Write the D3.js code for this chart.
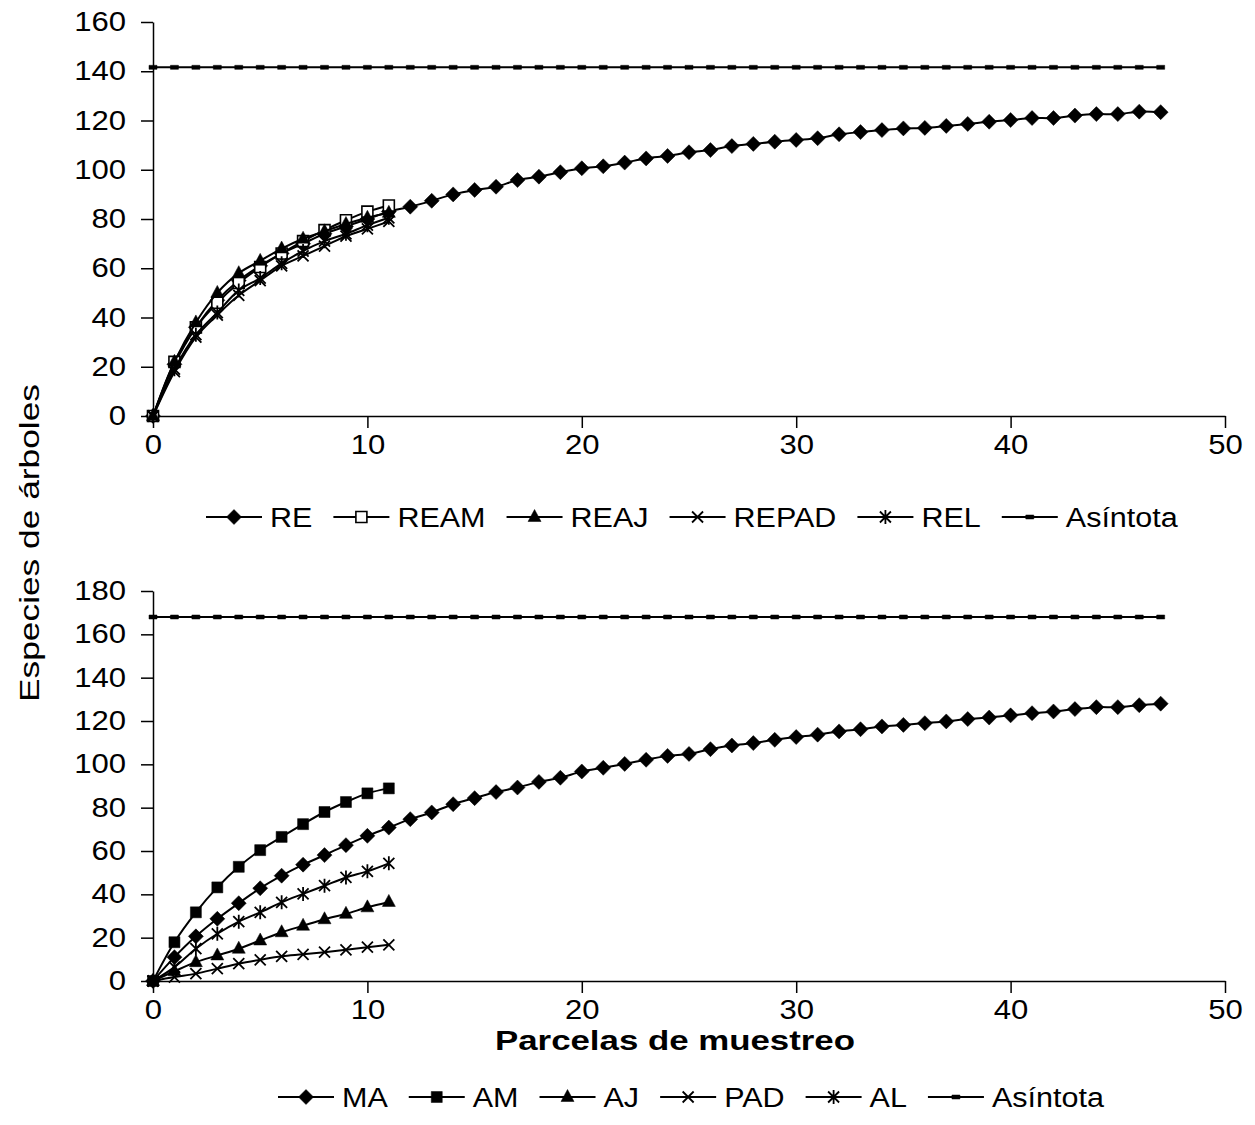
<!DOCTYPE html>
<html>
<head>
<meta charset="utf-8">
<script src="https://cdn.jsdelivr.net/npm/d3@7"></script>
<style>
  body { margin: 0; background: #fff; }
  text { font-family: "Liberation Sans", Arial, sans-serif; fill: #000; }
</style>
</head>
<body>
<div id="myChart"></div>
<script>
// ---- data ----
const parcelasLargo = d3.range(0, 48);   // 0..47
const parcelasCorto = d3.range(0, 12);   // 0..11
const xTicks = [0, 10, 20, 30, 40, 50];
const yTicksTop = [0, 20, 40, 60, 80, 100, 120, 140, 160];
const yTicksBot = [0, 20, 40, 60, 80, 100, 120, 140, 160, 180];

// top panel
const RE = [0, 21, 36, 47, 55, 61, 66, 70, 74, 77, 80, 83,
  85.0, 87.4, 90.0, 91.8, 93.1, 95.8, 97.2, 99.0, 100.6, 101.4, 102.9, 104.6,
  105.6, 107.1, 108.0, 109.6, 110.5, 111.4, 112.1, 112.8, 114.4, 115.3, 116.1, 116.8,
  117.0, 117.8, 118.6, 119.5, 120.2, 121.0, 121.0, 122.0, 122.6, 122.6, 123.6, 123.4];
const REAM = [0, 22, 36, 46, 54, 60.5, 66, 71, 75.5, 79.5, 83, 85.5];
const REAJ = [0, 22, 38, 50, 58, 63, 68, 72, 75, 78, 80.5, 82.5];
const REPAD = [0, 18, 32, 41, 49, 55, 61, 65, 69, 73, 76, 79];
const REL = [0, 19, 33, 42, 51, 56, 62, 67, 71, 74, 77.5, 80.5];
const asintotaTop = 141.6;

// bottom panel
const MA = [0, 11.0, 20.6, 28.7, 35.9, 42.8, 48.6, 53.7, 58.1, 62.7, 67.0, 70.8,
  74.7, 77.8, 81.6, 84.4, 87.2, 89.3, 91.9, 93.8, 96.7, 98.4, 100.2, 102.1,
  103.9, 104.8, 107.0, 108.7, 109.8, 111.3, 112.6, 113.7, 115.2, 116.2, 117.5, 118.2,
  119.0, 119.8, 120.9, 121.6, 122.6, 123.6, 124.4, 125.5, 126.4, 126.4, 127.3, 128.0];
const AM = [0, 17.9, 31.7, 43.2, 52.7, 60.4, 66.5, 72.4, 78.0, 82.6, 86.6, 88.9];
const AJ = [0, 4.5, 8.7, 11.8, 14.9, 18.7, 22.5, 25.5, 28.5, 31.0, 34.0, 36.5];
const PAD = [0, 1.8, 3.4, 5.7, 8.0, 9.8, 11.4, 12.3, 13.3, 14.4, 15.6, 16.7];
const AL = [0, 6.4, 14.9, 21.8, 27.4, 31.7, 36.3, 40.2, 44.0, 47.8, 50.6, 54.3];
const asintotaBot = 168.0;

// ---- page ----
const W = 1255, H = 1125;
const svg = d3.select("#myChart").append("svg")
  .attr("width", W).attr("height", H);

const x = d3.scaleLinear().domain([0, 50]).range([153, 1225]);
const yTop = d3.scaleLinear().domain([0, 160]).range([416, 22]);
const yBot = d3.scaleLinear().domain([0, 180]).range([981, 591]);

// marker shapes
const shapes = {
  diamond: "M0,-7.5L7.5,0L0,7.5L-7.5,0Z",
  square: "M-5.5,-5.5H5.5V5.5H-5.5Z",
  triangle: "M0,-7.5L6.5,4.5L-6.5,4.5Z",
  cross: "M-5.5,-5.5L5.5,5.5M-5.5,5.5L5.5,-5.5",
  star: "M-5.5,-5.5L5.5,5.5M-5.5,5.5L5.5,-5.5M0,-7V7",
  dash: "M-4,-2H4V2H-4Z"
};
function styleMarker(sel, type, open) {
  sel.attr("d", shapes[type])
    .attr("fill", (type === "cross" || type === "star") ? "none" : (open ? "#fff" : "#000"))
    .attr("stroke", "#000")
    .attr("stroke-width", (type === "cross" || type === "star") ? 1.8 : (open ? 1.6 : 0.5));
}

function stretch(sel, k) {
  sel.each(function() {
    const w = this.getComputedTextLength();
    d3.select(this).attr("textLength", w * k).attr("lengthAdjust", "spacingAndGlyphs");
  });
}

function drawPanel(y, yTicks, series, asint) {
  const g = svg.append("g");

  // axes
  const yAxis = g.append("g")
    .attr("transform", `translate(${x(0)},0)`)
    .call(d3.axisLeft(y).tickValues(yTicks).tickSize(12).tickSizeOuter(0).tickPadding(15));
  const xAxis = g.append("g")
    .attr("transform", `translate(0,${y(0)})`)
    .call(d3.axisBottom(x).tickValues(xTicks).tickSize(12).tickSizeOuter(0).tickPadding(7));
  [yAxis, xAxis].forEach(a => {
    a.select(".domain").attr("stroke", "#000").attr("stroke-width", 1.5);
    a.selectAll(".tick line").attr("stroke", "#000").attr("stroke-width", 1.5);
    a.selectAll(".tick text").style("font-size", "27px").attr("fill", "#000")
      .style("font-family", '"Liberation Sans", Arial, sans-serif');
    stretch(a.selectAll(".tick text"), 1.15);
  });

  const line = d3.line()
    .x(d => x(d[0]))
    .y(d => y(d[1]))
    .curve(d3.curveCatmullRom);

  // series
  series.forEach(s => {
    const pts = s.values.map((v, i) => [s.xs[i], v]);
    g.append("path").datum(pts)
      .attr("fill", "none").attr("stroke", "#000").attr("stroke-width", 2)
      .attr("d", line);
    g.selectAll(null).data(pts).join("path")
      .attr("transform", d => `translate(${x(d[0])},${y(d[1])})`)
      .call(styleMarker, s.marker, s.open);
  });

  // asymptote
  const aPts = parcelasLargo.map(p => [p, asint]);
  g.append("path").datum(aPts)
    .attr("fill", "none").attr("stroke", "#000").attr("stroke-width", 2)
    .attr("d", d3.line().x(d => x(d[0])).y(d => y(d[1])));
  g.selectAll(null).data(aPts).join("path")
    .attr("transform", d => `translate(${x(d[0])},${y(d[1])})`)
    .call(styleMarker, "dash", false);
}

function drawLegend(items, startX, cy) {
  let cx = startX;
  items.forEach(it => {
    const g = svg.append("g");
    g.append("line")
      .attr("x1", cx).attr("x2", cx + 56).attr("y1", cy).attr("y2", cy)
      .attr("stroke", "#000").attr("stroke-width", 2);
    g.append("path").attr("transform", `translate(${cx + 28},${cy})`)
      .call(styleMarker, it.marker, it.open);
    const t = g.append("text")
      .attr("x", cx + 64).attr("y", cy + 10)
      .style("font-size", "27px")
      .text(it.name);
    stretch(t, 1.13);
    cx = +t.attr("x") + +t.attr("textLength") + 21;
  });
}

// top panel
const topSeries = [
  { name: "RE", xs: parcelasLargo, values: RE, marker: "diamond" },
  { name: "REAM", xs: parcelasCorto, values: REAM, marker: "square", open: true },
  { name: "REAJ", xs: parcelasCorto, values: REAJ, marker: "triangle" },
  { name: "REPAD", xs: parcelasCorto, values: REPAD, marker: "cross" },
  { name: "REL", xs: parcelasCorto, values: REL, marker: "star" }
];
drawPanel(yTop, yTicksTop, topSeries, asintotaTop);
drawLegend(topSeries.concat([{ name: "Asíntota", marker: "dash" }]), 206, 517);

// bottom panel
const botSeries = [
  { name: "MA", xs: parcelasLargo, values: MA, marker: "diamond" },
  { name: "AM", xs: parcelasCorto, values: AM, marker: "square" },
  { name: "AJ", xs: parcelasCorto, values: AJ, marker: "triangle" },
  { name: "PAD", xs: parcelasCorto, values: PAD, marker: "cross" },
  { name: "AL", xs: parcelasCorto, values: AL, marker: "star" }
];
drawPanel(yBot, yTicksBot, botSeries, asintotaBot);
drawLegend(botSeries.concat([{ name: "Asíntota", marker: "dash" }]), 278, 1097);

// axis titles
svg.append("text")
  .attr("transform", "translate(39,543) rotate(-90)")
  .attr("text-anchor", "middle")
  .style("font-size", "27px")
  .attr("textLength", 318).attr("lengthAdjust", "spacingAndGlyphs")
  .text("Especies de árboles");

svg.append("text")
  .attr("x", 675).attr("y", 1050)
  .attr("text-anchor", "middle")
  .style("font-size", "27px").style("font-weight", "bold")
  .attr("textLength", 360).attr("lengthAdjust", "spacingAndGlyphs")
  .text("Parcelas de muestreo");
</script>
</body>
</html>
